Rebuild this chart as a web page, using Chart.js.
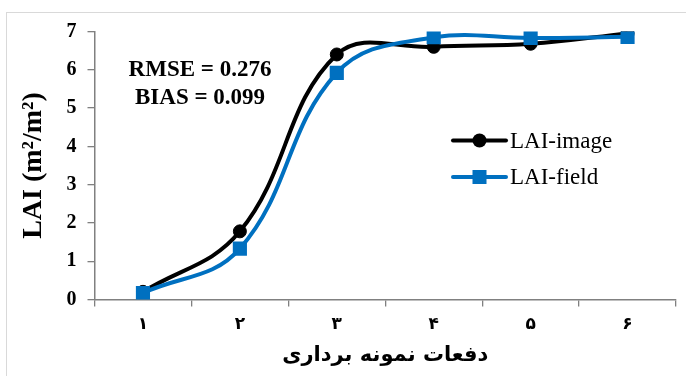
<!DOCTYPE html>
<html>
<head>
<meta charset="utf-8">
<script src="https://cdn.jsdelivr.net/npm/chart.js@4/dist/chart.umd.min.js"></script>
<style>
  html, body { margin: 0; padding: 0; background: #fff; }
  #frame { position: absolute; left: 6px; top: 12px; width: 700px; height: 400px; border: 1px solid #d9d9d9; box-sizing: border-box; }
  #wrap { position: absolute; left: 0; top: 0; width: 686px; height: 376px; }
</style>
</head>
<body>
<div id="frame"></div>
<div id="wrap"><canvas id="c"></canvas></div>
<script>
// ---- data ----
const categories = ['۱', '۲', '۳', '۴', '۵', '۶'];
const laiImage = [0.2, 1.78, 6.4, 6.6, 6.68, 6.95];
const laiField = [0.17, 1.33, 5.92, 6.85, 6.83, 6.86];
const seriesNames = ['LAI-image', 'LAI-field'];
const statLines = ['RMSE = 0.276', 'BIAS = 0.099'];
const yTitle = 'LAI (m²/m²)';
const xTitle = 'دفعات نمونه برداری';

const BLACK = '#000000';
const BLUE = '#0070C0';
const SERIF = '"Liberation Serif", "Times New Roman", "DejaVu Serif", serif';
const PERSIAN = '"DejaVu Sans", sans-serif';

const overlay = {
  id: 'overlay',
  afterDatasetsDraw(chart) {
    const ctx = chart.ctx;
    ctx.save();
    // stats text
    ctx.fillStyle = '#000';
    ctx.font = 'bold 23px ' + SERIF;
    ctx.textAlign = 'center';
    ctx.textBaseline = 'middle';
    ctx.fillText(statLines[0], 200, 70);
    ctx.fillText(statLines[1], 200, 98);
    // legend
    const rows = [140.5, 177];
    chart.data.datasets.slice().sort((a, b) => a.legendIndex - b.legendIndex).forEach((ds, i) => {
      const y = rows[i];
      ctx.strokeStyle = ds.borderColor;
      ctx.lineWidth = 4;
      ctx.lineCap = 'round';
      ctx.beginPath();
      ctx.moveTo(453, y);
      ctx.lineTo(506, y);
      ctx.stroke();
      ctx.fillStyle = ds.pointBackgroundColor;
      if (ds.pointStyle === 'rect') {
        ctx.fillRect(479.5 - 7, y - 7, 14, 14);
      } else {
        ctx.beginPath();
        ctx.arc(479.5, y, 7, 0, Math.PI * 2);
        ctx.fill();
      }
      ctx.fillStyle = '#000';
      ctx.font = '23px ' + SERIF;
      ctx.textAlign = 'left';
      ctx.textBaseline = 'middle';
      ctx.fillText(ds.label, 510, y + 1);
    });
    ctx.restore();
  }
};

new Chart(document.getElementById('c'), {
  type: 'line',
  data: {
    labels: categories,
    datasets: [
      {
        label: seriesNames[0], legendIndex: 0, data: laiImage, order: 2,
        borderColor: BLACK, backgroundColor: BLACK, pointBackgroundColor: BLACK,
        pointBorderColor: BLACK, borderWidth: 4, pointStyle: 'circle', pointRadius: 6.5,
        pointBorderWidth: 1, tension: 0.4, fill: false
      },
      {
        label: seriesNames[1], legendIndex: 1, data: laiField, order: 1,
        borderColor: BLUE, backgroundColor: BLUE, pointBackgroundColor: BLUE,
        pointBorderColor: BLUE, borderWidth: 4, pointStyle: 'rect', pointRadius: 10,
        pointBorderWidth: 0, tension: 0.4, fill: false
      }
    ]
  },
  options: {
    responsive: true,
    maintainAspectRatio: false,
    animation: false,
    devicePixelRatio: 1,
    layout: { padding: { left: 0, right: 9.5, top: 31.5, bottom: 0 } },
    plugins: { legend: { display: false }, tooltip: { enabled: false }, title: { display: false } },
    scales: {
      x: {
        type: 'category',
        offset: true,
        grid: { offset: true, drawOnChartArea: false, drawTicks: true, tickLength: 7, color: '#808080', lineWidth: 1.3 },
        border: { display: true, color: '#808080', width: 1.5 },
        ticks: { color: '#000', font: { family: PERSIAN, size: 17, weight: 'bold' }, padding: 8, maxRotation: 0 },
        title: { display: true, text: xTitle, color: '#000', font: { family: PERSIAN, size: 21, weight: 'bold' }, padding: { top: 0, bottom: 8 } },
        afterFit(s) { s.height = 76.5; }
      },
      y: {
        min: 0, max: 7,
        ticks: { stepSize: 1, color: '#000', font: { family: SERIF, size: 20, weight: 'bold' }, padding: 11 },
        grid: { drawOnChartArea: false, drawTicks: true, tickLength: 7, color: '#808080', lineWidth: 1.3 },
        border: { display: true, color: '#808080', width: 1.5 },
        title: { display: true, text: yTitle, color: '#000', font: { family: SERIF, size: 28, weight: 'bold' }, padding: { top: 17, bottom: 0 } },
        afterFit(s) { s.width = 94.5; }
      }
    }
  },
  plugins: [overlay]
});
</script>
</body>
</html>
